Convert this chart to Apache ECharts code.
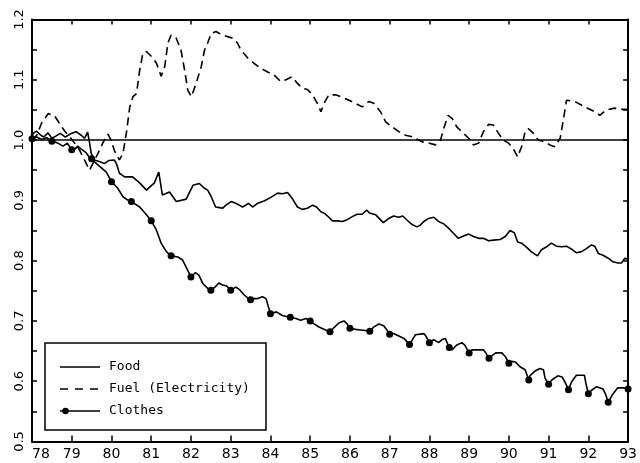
<!DOCTYPE html>
<html>
<head>
<meta charset="utf-8">
<script src="https://cdn.jsdelivr.net/npm/echarts@6/dist/echarts.min.js"></script>
<style>
  html, body { margin: 0; background: #fff; }
  #chart { width: 640px; height: 463px; }
</style>
</head>
<body>
<div id="chart"></div>
<script>
// [year, price index]
var food = [
  [78.00,1.005],[78.03,1.011],[78.11,1.015],[78.22,1.008],[78.30,1.005],[78.40,1.012],[78.50,1.003],[78.61,1.007],
  [78.71,1.011],[78.84,1.005],[78.99,1.011],[79.11,1.014],[79.24,1.008],[79.32,1.003],[79.40,1.013],[79.45,0.995],
  [79.49,0.978],[79.57,0.967],[79.71,0.964],[79.82,0.961],[79.93,0.966],[80.07,0.967],[80.13,0.960],[80.20,0.945],
  [80.33,0.939],[80.53,0.939],[80.71,0.929],[80.88,0.917],[81.08,0.929],[81.19,0.947],[81.28,0.909],[81.46,0.914],
  [81.63,0.898],[81.88,0.902],[82.05,0.925],[82.21,0.928],[82.34,0.920],[82.42,0.917],[82.51,0.906],[82.62,0.889],
  [82.72,0.888],[82.80,0.887],[82.88,0.892],[83.01,0.898],[83.13,0.895],[83.30,0.889],[83.34,0.888],[83.45,0.895],
  [83.55,0.889],[83.68,0.895],[83.84,0.899],[84.01,0.905],[84.18,0.912],[84.30,0.911],[84.43,0.913],[84.55,0.903],
  [84.68,0.889],[84.80,0.885],[84.93,0.887],[85.06,0.892],[85.16,0.889],[85.27,0.881],[85.37,0.878],[85.47,0.872],
  [85.56,0.866],[85.68,0.866],[85.81,0.865],[85.93,0.868],[86.06,0.873],[86.18,0.877],[86.31,0.877],[86.42,0.884],
  [86.49,0.879],[86.65,0.876],[86.84,0.863],[86.98,0.870],[87.10,0.874],[87.23,0.872],[87.33,0.874],[87.44,0.867],
  [87.56,0.860],[87.69,0.856],[87.77,0.859],[87.86,0.865],[87.98,0.870],[88.11,0.872],[88.23,0.865],[88.36,0.861],
  [88.48,0.854],[88.61,0.845],[88.73,0.837],[88.86,0.841],[88.99,0.844],[89.11,0.840],[89.24,0.837],[89.36,0.837],
  [89.49,0.833],[89.61,0.834],[89.78,0.835],[89.91,0.840],[90.03,0.850],[90.14,0.846],[90.22,0.831],[90.32,0.829],
  [90.45,0.822],[90.56,0.815],[90.72,0.808],[90.82,0.818],[90.95,0.823],[91.07,0.829],[91.20,0.824],[91.33,0.823],
  [91.45,0.824],[91.58,0.819],[91.70,0.813],[91.83,0.815],[91.95,0.820],[92.08,0.826],[92.16,0.824],[92.25,0.812],
  [92.37,0.809],[92.50,0.804],[92.62,0.798],[92.74,0.796],[92.83,0.796],[92.92,0.804],[93.00,0.802]
];

var fuel = [
  [78.00,1.000],[78.12,1.008],[78.24,1.028],[78.41,1.044],[78.57,1.040],[78.69,1.028],[78.82,1.015],[78.95,1.005],
  [79.07,0.995],[79.20,0.983],[79.32,0.967],[79.45,0.950],[79.53,0.961],[79.66,0.978],[79.78,0.995],[79.91,1.010],
  [79.99,1.000],[80.07,0.983],[80.20,0.967],[80.29,0.978],[80.38,1.014],[80.46,1.055],[80.54,1.072],[80.63,1.077],
  [80.71,1.116],[80.79,1.144],[80.88,1.147],[81.00,1.139],[81.13,1.128],[81.25,1.106],[81.34,1.122],[81.42,1.161],
  [81.50,1.174],[81.63,1.169],[81.75,1.149],[81.84,1.116],[81.92,1.083],[82.01,1.072],[82.13,1.094],[82.26,1.122],
  [82.34,1.149],[82.42,1.161],[82.51,1.177],[82.63,1.180],[82.80,1.174],[83.05,1.169],[83.17,1.161],[83.26,1.149],
  [83.43,1.136],[83.59,1.127],[83.76,1.119],[83.93,1.113],[84.09,1.108],[84.26,1.097],[84.39,1.100],[84.55,1.105],
  [84.68,1.094],[84.80,1.086],[84.93,1.084],[85.06,1.075],[85.18,1.061],[85.27,1.047],[85.35,1.061],[85.47,1.075],
  [85.64,1.075],[85.81,1.071],[85.98,1.066],[86.14,1.061],[86.31,1.055],[86.48,1.064],[86.60,1.061],[86.77,1.047],
  [86.90,1.030],[87.06,1.022],[87.23,1.014],[87.40,1.008],[87.61,1.005],[87.73,1.000],[87.82,0.997],[87.98,0.995],
  [88.15,0.992],[88.28,1.000],[88.36,1.019],[88.47,1.041],[88.57,1.036],[88.69,1.022],[88.86,1.011],[88.99,1.003],
  [89.11,0.992],[89.24,0.995],[89.36,1.014],[89.49,1.026],[89.61,1.025],[89.74,1.011],[89.86,1.000],[89.99,0.995],
  [90.11,0.986],[90.22,0.972],[90.32,0.989],[90.41,1.014],[90.49,1.019],[90.62,1.011],[90.74,1.000],[90.91,0.997],
  [91.03,0.992],[91.16,0.989],[91.29,1.003],[91.37,1.033],[91.45,1.066],[91.49,1.069],[91.66,1.064],[91.91,1.055],
  [92.16,1.047],[92.29,1.041],[92.45,1.050],[92.66,1.053],[92.80,1.051],[93.00,1.051]
];

// the plotted markers sit on the half-year points (x.0 and x.5)
var clothes = [
  [78.00,1.002],[78.12,1.005],[78.24,1.001],[78.37,1.004],[78.50,0.998],[78.65,0.995],[78.78,0.990],[78.89,0.995],
  [79.00,0.984],[79.08,0.985],[79.15,0.990],[79.24,0.985],[79.36,0.979],[79.45,0.971],[79.50,0.969],[79.71,0.956],
  [79.87,0.947],[80.00,0.931],[80.16,0.920],[80.29,0.906],[80.42,0.900],[80.50,0.898],[80.71,0.889],[80.88,0.876],
  [81.00,0.866],[81.13,0.851],[81.25,0.829],[81.38,0.815],[81.50,0.808],[81.67,0.806],[81.79,0.801],[81.92,0.784],
  [82.00,0.773],[82.11,0.780],[82.20,0.776],[82.30,0.762],[82.42,0.754],[82.50,0.751],[82.62,0.757],[82.70,0.763],
  [82.78,0.760],[82.90,0.758],[83.00,0.751],[83.13,0.756],[83.22,0.752],[83.34,0.743],[83.45,0.737],[83.50,0.735],
  [83.68,0.737],[83.80,0.740],[83.89,0.737],[83.95,0.723],[84.00,0.712],[84.15,0.715],[84.30,0.709],[84.43,0.707],
  [84.50,0.706],[84.64,0.704],[84.76,0.701],[84.89,0.704],[85.00,0.700],[85.10,0.695],[85.22,0.690],[85.39,0.685],
  [85.50,0.682],[85.60,0.689],[85.73,0.697],[85.85,0.700],[85.93,0.695],[86.00,0.688],[86.14,0.686],[86.27,0.685],
  [86.39,0.684],[86.50,0.683],[86.60,0.690],[86.73,0.695],[86.85,0.692],[86.94,0.684],[87.00,0.678],[87.10,0.679],
  [87.23,0.675],[87.36,0.671],[87.50,0.661],[87.65,0.677],[87.86,0.679],[87.91,0.675],[88.00,0.664],[88.11,0.669],
  [88.15,0.671],[88.23,0.664],[88.32,0.669],[88.40,0.671],[88.50,0.656],[88.57,0.652],[88.69,0.660],[88.82,0.664],
  [88.89,0.660],[89.00,0.647],[89.07,0.652],[89.19,0.652],[89.36,0.652],[89.42,0.647],[89.50,0.638],[89.57,0.642],
  [89.67,0.647],[89.82,0.647],[89.91,0.641],[90.00,0.630],[90.07,0.633],[90.16,0.632],[90.28,0.624],[90.41,0.619],
  [90.50,0.602],[90.53,0.609],[90.64,0.616],[90.78,0.621],[90.87,0.619],[90.91,0.605],[91.00,0.595],[91.08,0.602],
  [91.23,0.609],[91.34,0.607],[91.41,0.599],[91.50,0.586],[91.58,0.599],[91.70,0.610],[91.90,0.610],[91.94,0.596],
  [92.00,0.579],[92.08,0.585],[92.21,0.591],[92.37,0.587],[92.43,0.579],[92.50,0.565],[92.60,0.577],[92.74,0.589],
  [92.88,0.589],[93.00,0.587]
];

var seriesNames = ['Food', 'Fuel (Electricity)', 'Clothes'];

var chart = echarts.init(document.getElementById('chart'));

var isHalfYear = function (x) { return Math.abs(x * 2 - Math.round(x * 2)) < 1e-6; };
var clothesData = clothes.map(function (p) {
  return { value: p, symbol: isHalfYear(p[0]) ? 'circle' : 'none' };
});

var frame = { onZero: false, lineStyle: { color: '#000', width: 2 } };
var tickStyle = { color: '#000', width: 1.5 };

chart.setOption({
  animation: false,
  backgroundColor: '#fff',
  grid: { left: 32, right: 10, top: 19.5, bottom: 21.5 },
  xAxis: [
    {
      type: 'value', min: 78, max: 93, interval: 1,
      axisLine: frame,
      axisTick: { inside: true, length: 6, lineStyle: tickStyle },
      axisLabel: { color: '#000', fontFamily: 'DejaVu Sans', fontSize: 14, margin: 6, alignMinLabel: 'left' },
      splitLine: { show: false }
    },
    {
      type: 'value', min: 78, max: 93, interval: 1, position: 'top',
      axisLine: frame,
      axisTick: { inside: true, length: 5, lineStyle: tickStyle },
      axisLabel: { show: false },
      splitLine: { show: false }
    }
  ],
  yAxis: [
    {
      type: 'value', min: 0.5, max: 1.2, interval: 0.1,
      axisLine: frame,
      axisTick: { inside: true, length: 5, lineStyle: tickStyle },
      minorTick: { show: true, splitNumber: 2, length: 5, lineStyle: tickStyle },
      axisLabel: {
        color: '#000', fontFamily: 'DejaVu Sans', fontSize: 13, rotate: 90, margin: 6,
        formatter: function (v) { return v.toFixed(1); }
      },
      splitLine: { show: false }
    },
    {
      type: 'value', min: 0.5, max: 1.2, interval: 0.1, position: 'right',
      axisLine: frame,
      axisTick: { inside: true, length: 5, lineStyle: tickStyle },
      minorTick: { show: true, splitNumber: 2, length: 5, lineStyle: tickStyle },
      axisLabel: { show: false },
      splitLine: { show: false }
    }
  ],
  legend: {
    orient: 'vertical', left: 55, top: 355,
    itemWidth: 40, itemHeight: 7, itemGap: 8,
    selectedMode: false,
    textStyle: { color: '#000', fontFamily: 'DejaVu Sans Mono', fontSize: 13, lineHeight: 14, padding: [0, 0, 0, 4] },
    data: [
      { name: seriesNames[0], icon: 'path://M0,0M40,7M0,2.8H40V4.2H0Z' },
      { name: seriesNames[1], icon: 'path://M0,0M40,7M0,2.8H8V4.2H0Z M15,2.8H23V4.2H15Z M30,2.8H38V4.2H30Z' },
      { name: seriesNames[2], icon: 'path://M0,0M40,7M2.2,3.5A3.3,3.3,0,1,1,8.8,3.5A3.3,3.3,0,1,1,2.2,3.5Z M0,2.8H40V4.2H0Z' }
    ]
  },
  graphic: [{
    type: 'rect', z: 100,
    shape: { x: 45, y: 343, width: 221, height: 87 },
    style: { fill: 'none', stroke: '#000', lineWidth: 1.5 }
  }],
  series: [
    {
      name: seriesNames[0], type: 'line', data: food, symbol: 'none',
      lineStyle: { color: '#000', width: 1.6 }, itemStyle: { color: '#000' },
      markLine: {
        silent: true, symbol: 'none', label: { show: false },
        lineStyle: { color: '#000', type: 'solid', width: 1.5 },
        data: [{ yAxis: 1 }]
      }
    },
    {
      name: seriesNames[1], type: 'line', data: fuel, symbol: 'none',
      lineStyle: { color: '#000', width: 1.6, type: [8, 5] }, itemStyle: { color: '#000' }
    },
    {
      name: seriesNames[2], type: 'line', data: clothesData, symbol: 'circle', symbolSize: 7,
      lineStyle: { color: '#000', width: 1.6 }, itemStyle: { color: '#000' }
    }
  ]
});
</script>
</body>
</html>
